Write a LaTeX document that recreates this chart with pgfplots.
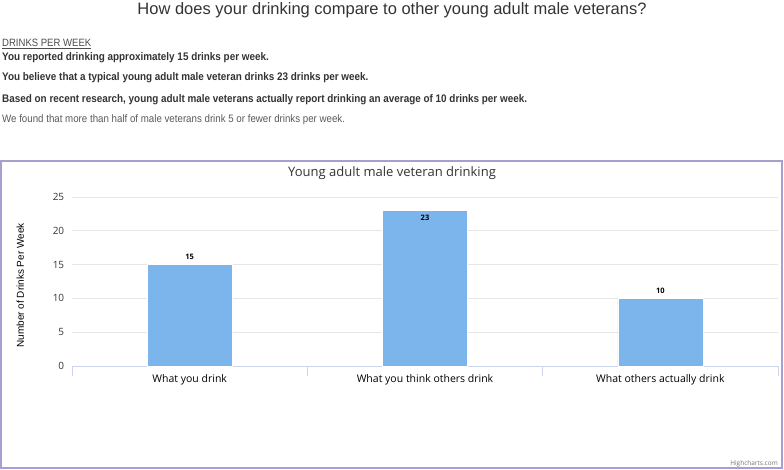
\documentclass[border=0pt]{standalone}
\usepackage{pgfplots}
\pgfplotsset{compat=1.18}
\usepackage{fontspec}
\setmainfont{Liberation Sans}
\newfontfamily\hc{Open Sans}
\newfontfamily\narrow[FakeStretch=0.9]{Liberation Sans}
\definecolor{barblue}{HTML}{7CB5EC}
\definecolor{gridc}{HTML}{E6E6E6}
\definecolor{axisc}{HTML}{CCD6EB}
\definecolor{txt}{HTML}{333333}
\definecolor{bord}{HTML}{A89FD0}
\begin{document}
\begin{tikzpicture}
\path[use as bounding box] (0,0) rectangle (784pt,-470pt);
% header
\node[anchor=base, text=txt, font=\fontsize{16.5}{18}\selectfont] at (392pt,-15pt) {How does your drinking compare to other young adult male veterans?};
\node[anchor=base west, inner sep=0pt, text=black!70, font=\narrow\fontsize{10.6}{12}\selectfont] at (2pt,-47pt) {\underline{DRINKS PER WEEK}};
\node[anchor=base west, inner sep=0pt, text=txt, font=\narrow\bfseries\fontsize{11}{12}\selectfont] at (2pt,-61pt) {You reported drinking approximately 15 drinks per week.};
\node[anchor=base west, inner sep=0pt, text=txt, font=\narrow\bfseries\fontsize{11}{12}\selectfont] at (2pt,-81pt) {You believe that a typical young adult male veteran drinks 23 drinks per week.};
\node[anchor=base west, inner sep=0pt, text=txt, font=\narrow\bfseries\fontsize{11}{12}\selectfont] at (2pt,-103pt) {Based on recent research, young adult male veterans actually report drinking an average of 10 drinks per week.};
\node[anchor=base west, inner sep=0pt, text=black!65, font=\narrow\fontsize{10.8}{12}\selectfont] at (2pt,-123pt) {We found that more than half of male veterans drink 5 or fewer drinks per week.};
% chart frame
\draw[bord, line width=1.2pt] (1pt,-161pt) rectangle (782pt,-468pt);
\node[anchor=center, text=txt, font=\hc\fontsize{13}{14}\selectfont] at (392pt,-173pt) {Young adult male veteran drinking};
\node[anchor=base east, text=black!55, inner sep=0pt, font=\hc\fontsize{6.5}{7}\selectfont] at (778pt,-465pt) {Highcharts.com};
\begin{axis}[
  at={(72pt,-366pt)}, anchor=south west,
  width=706pt, height=169pt, scale only axis,
  xmin=-0.5, xmax=2.5, ymin=0, ymax=25,
  ytick={0,5,10,15,20,25},
  xtick={0,1,2},
  xticklabels={What you drink, What you think others drink, What others actually drink},
  minor xtick={-0.5,0.5,1.5,2.5},
  major x tick style={draw=none},
  minor x tick style={axisc, line width=0.8pt},
  minor tick length=10pt,
  tick align=outside,
  y tick style={draw=none},
  separate axis lines,
  axis x line*=bottom, axis y line*=left,
  y axis line style={draw=none},
  x axis line style={axisc, line width=1pt, -},
  ymajorgrids, grid style={gridc, line width=0.8pt},
  yticklabel style={font=\hc\fontsize{10}{12}\selectfont, text=txt, /pgf/number format/assume math mode=true},
  xticklabel style={font=\hc\fontsize{10.5}{12}\selectfont, text=black, yshift=-1pt},
  ylabel={Number of Drinks Per Week},
  ylabel style={font=\hc\fontsize{11}{12}\selectfont, text=txt},
  every axis y label/.style={at={(ticklabel cs:0.5)}, rotate=90, anchor=near ticklabel, yshift=22pt, xshift=-4pt},
  ybar, bar width=85pt, bar shift=0pt,
  clip=false,
  every node near coord/.append style={font=\hc\bfseries\fontsize{7.5}{8}\selectfont, text=black, /pgf/number format/assume math mode=true},
]
\addplot[fill=barblue, draw=white, nodes near coords, every node near coord/.append style={anchor=south, yshift=1pt}] coordinates {(0,15) (2,10)};
\addplot[fill=barblue, draw=white, nodes near coords, every node near coord/.append style={anchor=north, yshift=-1pt}] coordinates {(1,23)};
\end{axis}
\end{tikzpicture}
\end{document}
